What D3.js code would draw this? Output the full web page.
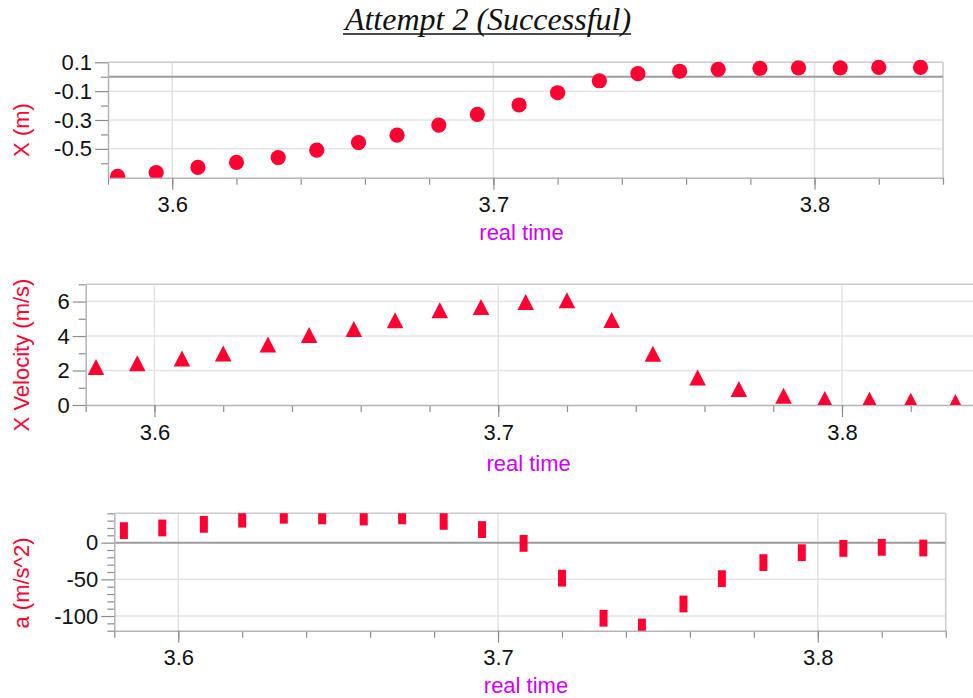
<!DOCTYPE html>
<html><head><meta charset="utf-8">
<script src="https://cdn.jsdelivr.net/npm/d3@7"></script>
<style>body{margin:0;background:#fff}svg{display:block}</style>
</head><body><svg id="c" width="973" height="698"></svg>
<script>
// ---- data ----
const time = [3.583, 3.595, 3.608, 3.620, 3.633, 3.645, 3.658, 3.670, 3.683, 3.695, 3.708,
              3.720, 3.733, 3.745, 3.758, 3.770, 3.783, 3.795, 3.808, 3.820, 3.833];
const position = [-0.69, -0.664, -0.629, -0.594, -0.56, -0.509, -0.456, -0.405, -0.335, -0.261, -0.196,
                  -0.111, -0.028, 0.021, 0.038, 0.051, 0.058, 0.062, 0.062, 0.065, 0.065];
const velocity = [2.21, 2.42, 2.70, 2.99, 3.51, 4.06, 4.41, 4.91, 5.49, 5.69, 5.98,
                  6.08, 4.93, 2.97, 1.59, 0.93, 0.54, 0.35, 0.31, 0.25, 0.17];
const acceleration = [16.4, 20, 25, 32, 37.4, 36.5, 35, 36.5, 29, 17.8, -1,
                      -48.4, -103, -115, -83.6, -49.1, -27.2, -13.7, -7.8, -6.4, -7.3];

const xMajorTicks = [3.6, 3.7, 3.8];
const xMinorTicks = [3.58, 3.60, 3.62, 3.64, 3.66, 3.68, 3.70, 3.72, 3.74, 3.76, 3.78, 3.80, 3.82, 3.84];
const posMajorTicks = [0.1, -0.1, -0.3, -0.5];
const posMinorTicks = [0, -0.2, -0.4, -0.6];
const velMajorTicks = [0, 2, 4, 6];
const velMinorTicks = [1, 3, 5, 7];
const accMajorTicks = [0, -50, -100];
const accMinorTicks = [40, 30, 20, 10, -10, -20, -30, -40, -60, -70, -80, -90, -110, -120];

const chartTitle = "Attempt 2 (Successful)";
const xTitle = "real time";
const yTitles = ["X (m)", "X Velocity (m/s)", "a (m/s^2)"];

// ---- style ----
const RED = "#ff0033";
const MAGENTA = "#cc00ff";
const FONT = "Arial, 'Liberation Sans', sans-serif";

const svg = d3.select("#c");
svg.append("rect").attr("width", 973).attr("height", 698).attr("fill", "#fff");

// title
const tt = svg.append("text")
  .attr("x", 488).attr("y", 30)
  .attr("text-anchor", "middle")
  .attr("font-family", "'Liberation Serif', 'Times New Roman', serif")
  .attr("font-style", "italic")
  .attr("font-size", 32)
  .attr("fill", "#111")
  .text(chartTitle);
const tb = tt.node().getBBox();
svg.append("line").attr("x1", tb.x).attr("x2", tb.x + tb.width)
  .attr("y1", 34).attr("y2", 34).attr("stroke", "#111").attr("stroke-width", 1.6);

const panels = [
  { values: position, title: yTitles[0], domain: [-0.7, 0.1], box: { l: 108, r: 943, t: 62.3, b: 177.7 },
    major: posMajorTicks, minor: posMinorTicks, grid: [-0.1, -0.3, -0.5], zero: 0, marker: "circle",
    titleY: 130, padTop: 4, xTitleOff: 62.5 },
  { values: velocity, title: yTitles[1], domain: [0, 7], box: { l: 85.7, r: 979.5, t: 284.3, b: 405 },
    major: velMajorTicks, minor: velMinorTicks, grid: [2, 4, 6], zero: null, marker: "triangle",
    titleY: 355, padTop: 0, xTitleOff: 65.5 },
  { values: acceleration, title: yTitles[2], domain: [-120, 40], box: { l: 114.3, r: 945.7, t: 513.3, b: 630.7 },
    major: accMajorTicks, minor: accMinorTicks, grid: [-50, -100], zero: 0, marker: "rect",
    titleY: 583, padTop: 0, xTitleOff: 62.3 }
];

panels.forEach((p, i) => {
  const { l, r, t, b } = p.box;
  const x = d3.scaleLinear().domain([3.58, 3.84]).range([l, r]);
  const y = d3.scaleLinear().domain(p.domain).range([b, t]);
  const g = svg.append("g");

  // grid
  g.selectAll(".hg").data(p.grid).join("line")
    .attr("x1", l).attr("x2", r).attr("y1", d => y(d)).attr("y2", d => y(d))
    .attr("stroke", "#e3e3e3").attr("stroke-width", 1.5);
  g.selectAll(".vg").data(xMajorTicks).join("line")
    .attr("x1", d => x(d)).attr("x2", d => x(d)).attr("y1", t).attr("y2", b)
    .attr("stroke", "#e3e3e3").attr("stroke-width", 1.5);
  // border top/right
  g.append("line").attr("x1", l).attr("x2", r).attr("y1", t).attr("y2", t)
    .attr("stroke", "#cacaca").attr("stroke-width", 1.5);
  g.append("line").attr("x1", r).attr("x2", r).attr("y1", t).attr("y2", b)
    .attr("stroke", "#cacaca").attr("stroke-width", 1.5);
  if (p.zero !== null) {
    g.append("line").attr("x1", l).attr("x2", r).attr("y1", y(p.zero)).attr("y2", y(p.zero))
      .attr("stroke", "#9c9c9c").attr("stroke-width", 2);
  }

  // axes
  const styleAxis = (sel) => {
    sel.select(".domain").attr("stroke", "#b4b4b4").attr("stroke-width", 1.5);
    sel.selectAll(".tick line").attr("stroke", "#8c8c8c").attr("stroke-width", 1.2);
    sel.selectAll("text").attr("font-family", FONT).attr("font-size", 22).attr("fill", "#111");
  };
  const yMinor = g.append("g").attr("transform", `translate(${l},0)`)
    .call(d3.axisLeft(y).tickValues(p.minor).tickSize(7).tickSizeOuter(0).tickFormat(""));
  yMinor.select(".domain").remove();
  yMinor.selectAll(".tick line").attr("stroke", "#8c8c8c").attr("stroke-width", 1.2);
  const yMajor = g.append("g").attr("transform", `translate(${l},0)`)
    .call(d3.axisLeft(y).tickValues(p.major).tickSize(13).tickSizeOuter(0).tickPadding(3).tickFormat(d => String(d)));
  styleAxis(yMajor);

  const xMinor = g.append("g").attr("transform", `translate(0,${b})`)
    .call(d3.axisBottom(x).tickValues(xMinorTicks).tickSize(7).tickSizeOuter(0).tickFormat(""));
  xMinor.select(".domain").remove();
  xMinor.selectAll(".tick line").attr("stroke", "#8c8c8c").attr("stroke-width", 1.2);
  const xMajor = g.append("g").attr("transform", `translate(0,${b})`)
    .call(d3.axisBottom(x).tickValues(xMajorTicks).tickSize(12).tickSizeOuter(0).tickPadding(7).tickFormat(d => String(d)));
  styleAxis(xMajor);

  // titles
  g.append("text")
    .attr("transform", `translate(21.7,${p.titleY}) rotate(-90)`)
    .attr("text-anchor", "middle").attr("dominant-baseline", "central")
    .attr("font-family", FONT).attr("font-size", 22).attr("fill", RED)
    .text(p.title);
  g.append("text")
    .attr("x", (l + r) / 2 - 4).attr("y", b + p.xTitleOff)
    .attr("text-anchor", "middle")
    .attr("font-family", FONT).attr("font-size", 22).attr("fill", MAGENTA)
    .text(xTitle);

  // clip
  const cid = "clip" + i;
  svg.append("clipPath").attr("id", cid).append("rect")
    .attr("x", l).attr("y", t - p.padTop).attr("width", r - l).attr("height", b - t + p.padTop);
  const mg = g.append("g").attr("clip-path", `url(#${cid})`);

  const pts = time.map((tv, k) => ({ t: tv, v: p.values[k] }));
  if (p.marker === "circle") {
    mg.selectAll("circle").data(pts).join("circle")
      .attr("cx", d => x(d.t)).attr("cy", d => y(d.v)).attr("r", 7.6).attr("fill", RED);
  } else if (p.marker === "triangle") {
    mg.selectAll("path").data(pts).join("path")
      .attr("transform", d => `translate(${x(d.t)},${y(d.v)})`)
      .attr("d", "M0,-8L8.3,8L-8.3,8Z").attr("fill", RED);
  } else {
    mg.selectAll("rect").data(pts).join("rect")
      .attr("x", d => x(d.t) - 4).attr("y", d => y(d.v) - 8.4)
      .attr("width", 8).attr("height", 16.8).attr("fill", RED);
  }
});
</script>
</body></html>
